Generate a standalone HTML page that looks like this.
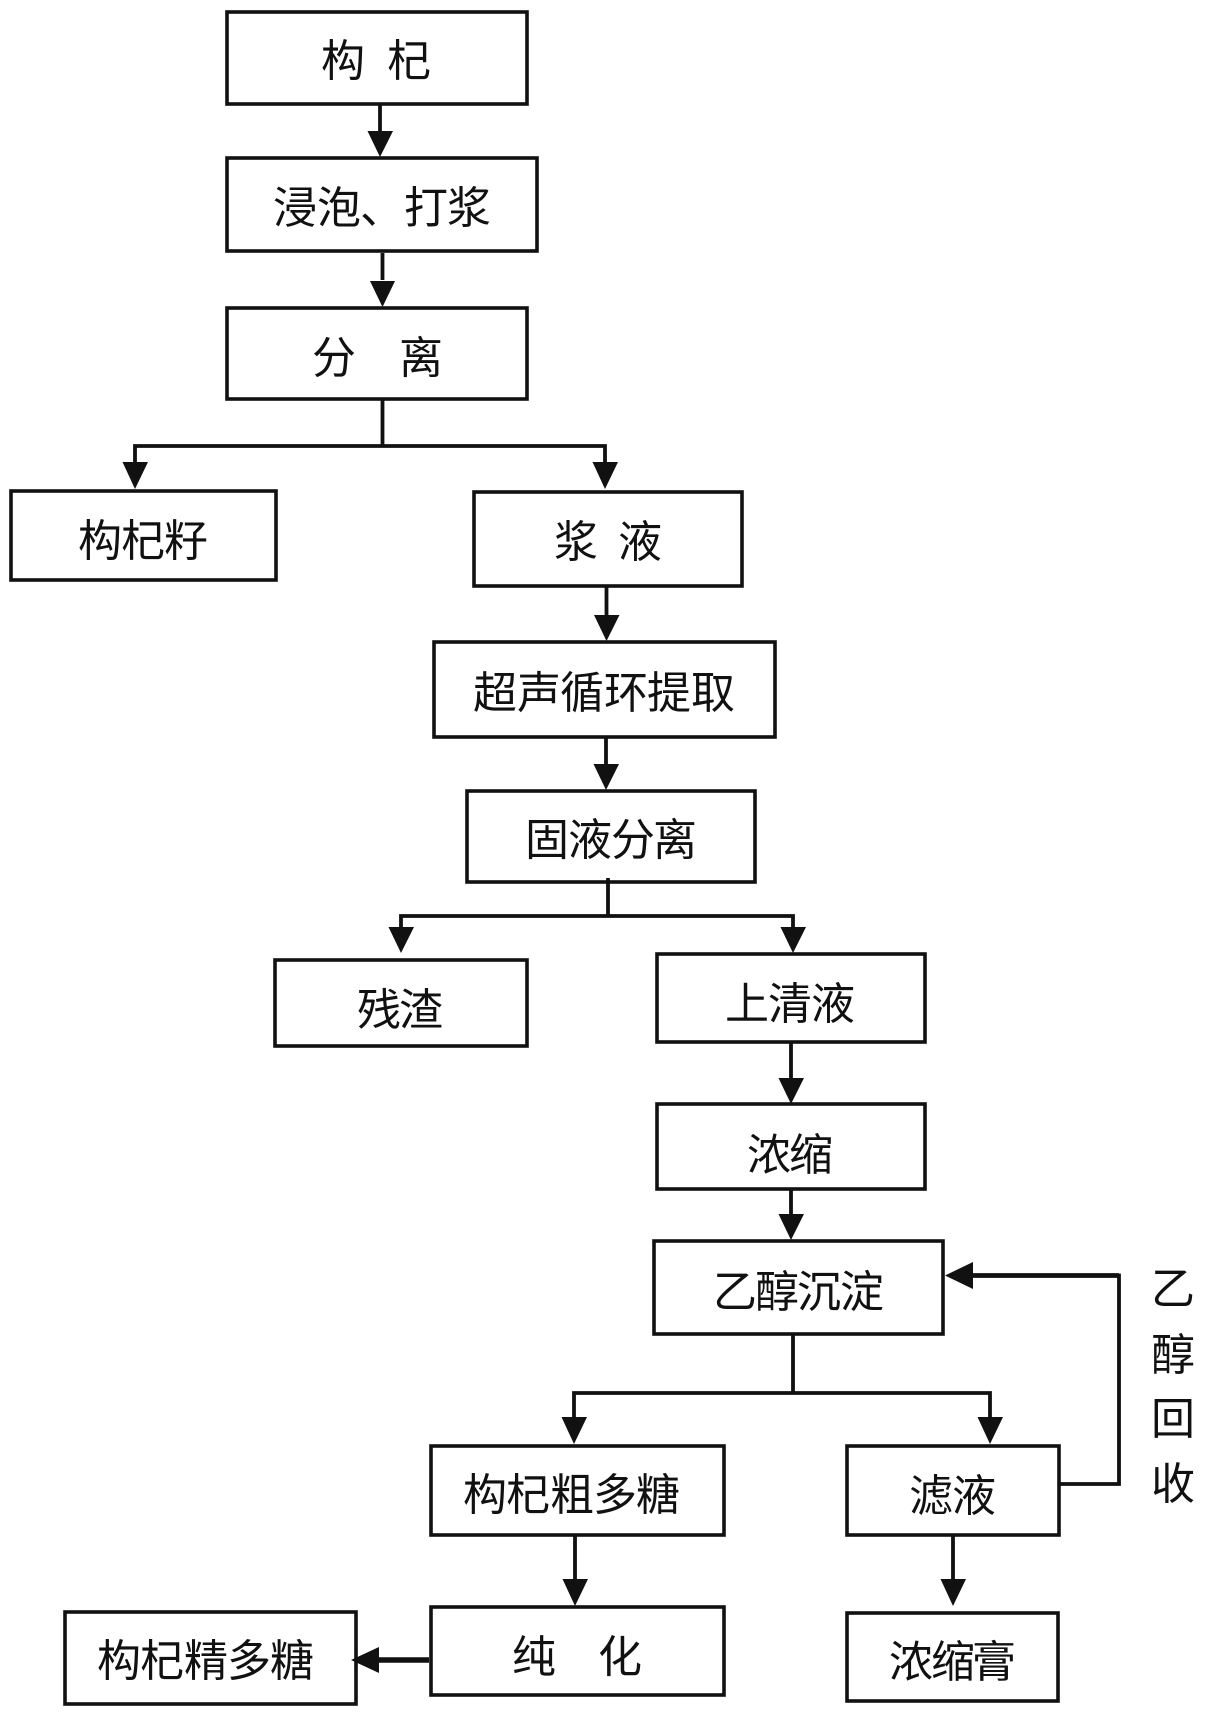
<!DOCTYPE html>
<html lang="zh"><head><meta charset="utf-8"><style>
html,body{margin:0;padding:0;background:#fff}
svg{display:block}
text{font-family:"Liberation Sans","Noto Sans CJK SC",sans-serif;font-size:44px;fill:#111;text-anchor:middle}
.b{fill:#fff;stroke:#111;stroke-width:3.6}
.l{fill:none;stroke:#111;stroke-width:3.8}
.h{fill:#111}
</style></head><body>
<svg width="1205" height="1718" viewBox="0 0 1205 1718" xmlns="http://www.w3.org/2000/svg">
<rect class="b" x="227" y="12" width="300" height="92"/>
<rect class="b" x="227" y="158" width="310" height="93"/>
<rect class="b" x="227" y="308" width="300" height="91"/>
<rect class="b" x="11" y="491" width="265" height="89"/>
<rect class="b" x="474" y="492" width="268" height="94"/>
<rect class="b" x="434" y="642" width="341" height="95"/>
<rect class="b" x="467" y="791" width="288" height="91"/>
<rect class="b" x="275" y="960" width="252" height="86"/>
<rect class="b" x="657" y="954" width="268" height="88"/>
<rect class="b" x="657" y="1104" width="268" height="85"/>
<rect class="b" x="654" y="1241" width="289" height="93"/>
<rect class="b" x="431" y="1446" width="293" height="89"/>
<rect class="b" x="847" y="1446" width="212" height="89"/>
<rect class="b" x="431" y="1607" width="293" height="88"/>
<rect class="b" x="847" y="1613" width="211" height="88"/>
<rect class="b" x="65" y="1612" width="291" height="92"/>

<path class="l" d="M380 104V140M382.500 253V280M382.500 399V446M135 470V446H605V470M606.500 586V625M606 737V772M608 878V916M401 935V916H793V935M791 1041V1085M791 1190V1222M793 1334V1393M574 1420V1393H990V1420M575 1535V1585M953 1535V1585"/>
<path class="l" d="M1059 1484H1119V1275.500H970"/>
<path class="l" d="M429 1660H375" style="stroke-width:5.500"/>
<path class="l" d="M972 1275.500H1119" style="stroke-width:4.800"/>
<path class="h" d="M367.500 131H393L380 157ZM370 281H395L382.500 307ZM122.500 462H148L135 489ZM592.500 462H618L605 489ZM594 615H619.500L606.500 641ZM593.500 764H619L606 790ZM388.500 927H414L401 953ZM780.500 927H806L793 953ZM778.500 1078H804L791 1104ZM778.500 1214H804L791 1240ZM561.500 1417H587L574 1444ZM977.500 1417H1003L990 1444ZM562.500 1579H588L575 1606ZM940.500 1579H966L953 1606Z"/>
<path class="h" d="M945 1275.500L973 1262V1289ZM351 1660L379 1647V1673Z"/>

<text x="343 409" y="76">构杞</text>
<text x="295 339 382 426 469" y="223">浸泡、打浆</text>
<text x="334 421" y="373">分离</text>
<text x="100 143 186" y="556">构杞籽</text>
<text x="576 640" y="557">浆液</text>
<text x="495 539 582 626 669 713" y="708">超声循环提取</text>
<text x="547 590 633 675" y="855">固液分离</text>
<text x="379 421" y="1025">残渣</text>
<text x="747 790 833" y="1019">上清液</text>
<text x="769 811" y="1170">浓缩</text>
<text x="735 777 819 862" y="1307">乙醇沉淀</text>
<text x="485 528 572 615 658" y="1510">构杞粗多糖</text>
<text x="931 974" y="1511">滤液</text>
<text x="534 620" y="1672">纯化</text>
<text x="119 162 206 249 292" y="1676">构杞精多糖</text>
<text x="911 953 994" y="1677">浓缩膏</text>
<text x="1173" y="1304">乙</text>
<text x="1173" y="1370">醇</text>
<text x="1173" y="1434">回</text>
<text x="1173" y="1499">收</text>
</svg>
</body></html>
